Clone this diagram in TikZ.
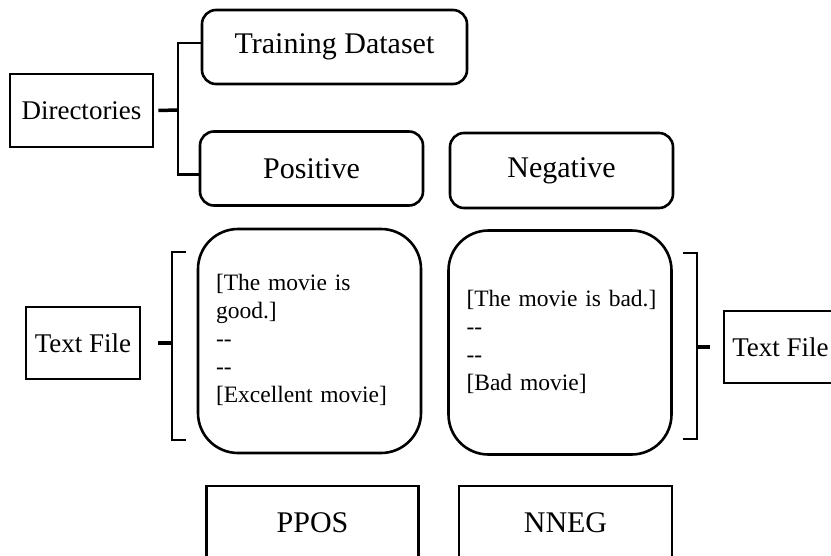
\documentclass[tikz,border=0pt]{standalone}
\usepackage{fontspec}
\setmainfont{Liberation Serif}
\begin{document}
\begin{tikzpicture}[x=1pt,y=-1pt,line width=2.6pt,
  folder/.style={draw,rounded corners=14pt,minimum height=74pt,font=\fontsize{30}{36}\selectfont},
  tagbox/.style={draw,minimum height=72pt,font=\fontsize{27}{32}\selectfont},
  filebox/.style={draw,rounded corners=40pt,text width=187pt,inner xsep=18pt,align=left,
    minimum height=224pt,font=\fontsize{23.5}{28}\selectfont},
  outbox/.style={draw,minimum width=212pt,minimum height=74pt,font=\fontsize{30}{36}\selectfont}]
\useasboundingbox (0,0) rectangle (831,555);
% directories
\node[tagbox,minimum width=143pt,minimum height=73pt] (dirs) at (81.5,110.5) {Directories};
\node[folder,minimum width=265pt] (train) at (334.5,47) {Training Dataset};
\node[folder,minimum width=223pt] (pos) at (311.5,168.5) {Positive};
\node[folder,minimum width=223pt,minimum height=75pt] (neg) at (561.5,170.5) {Negative};
\coordinate (dsplit) at (178,110);
\draw[line width=3.5pt] (dirs.east) ++(4,0) -- (dsplit);
\draw ([yshift=4pt]train.west) -| (dsplit) |- ([yshift=-6pt]pos.west);
% text files
\node[filebox] (posfile) at (309.5,341) {\begin{tabular}{@{}l@{}}
  {[}The movie is\\good.{]}\\{-}{-}\\{-}{-}\\{[}Excellent movie{]}\end{tabular}};
\node[filebox] (negfile) at (560,342.5) {\begin{tabular}{@{}l@{}}
  {[}The movie is bad.{]}\\{-}{-}\\{-}{-}\\{[}Bad movie{]}\end{tabular}};
\node[tagbox,minimum width=114pt] (tfl) at (83,343) {Text File};
\node[tagbox,minimum width=113pt] (tfr) at (780.5,347) {Text File};
\draw (186,252) -| (172,440) -- (186,440);
\draw[line width=3.5pt] (tfl.east) ++(17,0) -- ++(15,0);
\draw (683,253) -| (697,439) -- (683,439);
\draw[line width=3.5pt] ([xshift=-13pt]tfr.west) -- ++(-14,0);
% outputs
\node[outbox] (ppos) at (312.5,523) {PPOS};
\node[outbox,minimum width=213pt] (nneg) at (565.5,523) {NNEG};
\end{tikzpicture}
\end{document}
